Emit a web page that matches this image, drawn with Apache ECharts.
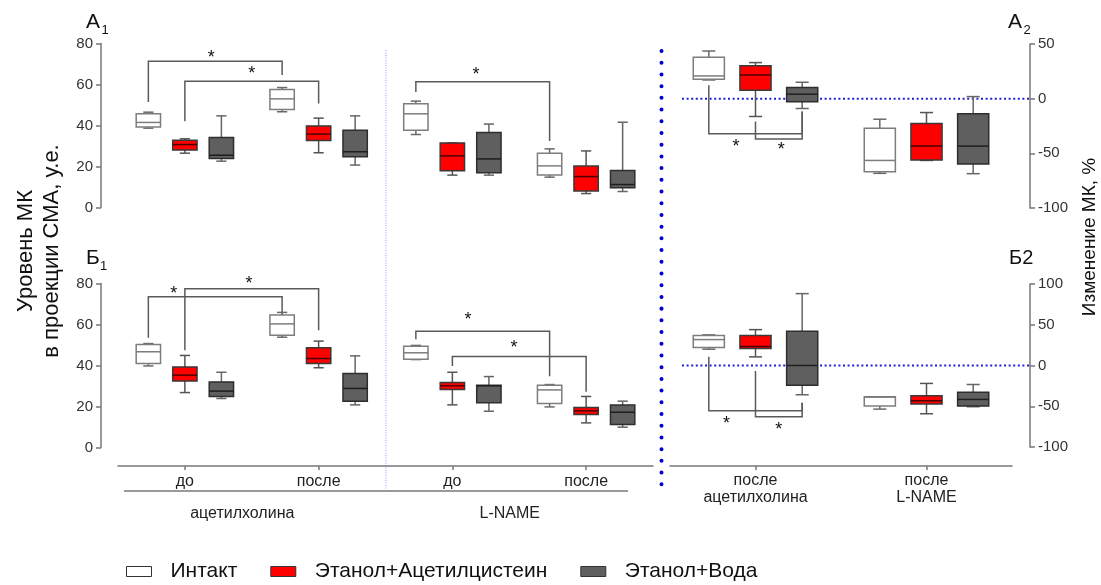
<!DOCTYPE html>
<html><head><meta charset="utf-8">
<script src="https://cdn.jsdelivr.net/npm/echarts@6/dist/echarts.min.js"></script>
<style>html,body{margin:0;padding:0;background:#fff}#c{width:1101px;height:585px}</style>
</head><body><div id="c"></div>
<script>
// ---------- DATA ----------
const categoriesLeft = ['до', 'после', 'до', 'после'];
const groupLabels = ['ацетилхолина', 'L-NAME'];
const categoriesRight = ['после\nацетилхолина', 'после\nL-NAME'];
const seriesNames = ['Интакт', 'Этанол+Ацетилцистеин', 'Этанол+Вода'];
const yTicksLeft = [0, 20, 40, 60, 80];
const yTicksA2 = [-100, -50, 0, 50];
const yTicksB2 = [-100, -50, 0, 50, 100];

// box values: [min, q1, median, q3, max] per category
const a1Intact = [[38.7, 39.3, 41.5, 45.7, 46.5], [46.7, 47.8, 53, 57.6, 58.5], [35.6, 37.7, 45.7, 50.6, 51.9], [14.8, 15.9, 20.3, 26.5, 28.6]];
const a1Nac    = [[26.5, 28, 30.7, 32.8, 33.5], [26.7, 32.7, 35.8, 39.8, 43.6], [15.8, 17.9, 25.2, 31.5, 31.5], [6.8, 8.1, 15.1, 20.2, 27.6]];
const a1Water  = [[22.6, 23.9, 25.5, 34.1, 44.7], [20.7, 24.7, 27.2, 37.7, 44.7], [15.8, 16.9, 23.7, 36.6, 40.7], [7.8, 9.6, 11.2, 18, 41.6]];

const b1Intact = [[39.8, 41, 46.7, 50.2, 50.7], [53.8, 54.8, 60.3, 64.6, 65.9], [42.9, 43, 46.2, 49.4, 49.8], [19.8, 21.5, 28.1, 30.4, 30.7]];
const b1Nac    = [[26.8, 32.4, 35.3, 39.3, 44.9], [38.9, 41, 43.4, 48.6, 51.9], [20.8, 28.3, 30.1, 31.7, 36.7], [12, 16.1, 17.9, 19.5, 24.9]];
const b1Water  = [[23.9, 24.9, 27.5, 32, 36.7], [20.8, 22.6, 28.8, 36.1, 44.7], [17.7, 21.8, 30.1, 30.4, 34.6], [9.9, 11.2, 17.2, 20.7, 22.6]];

const a2Intact = [[17.1, 17.8, 20.8, 37.8, 43.6], [-68.3, -66.8, -56.5, -27, -18.8]];
const a2Nac    = [[-16.3, 7.7, 21.7, 30.2, 33], [-56.5, -56.2, -43.4, -22.7, -12.7]];
const a2Water  = [[-9, -2.9, 4.1, 10.1, 15], [-68.6, -59.8, -43.4, -13.9, 1.9]];

const b2Intact = [[20, 22, 31.8, 36.7, 37.6], [-53.5, -49.8, -38.8, -38.4, -38.4]];
const b2Nac    = [[10.6, 20.8, 23.3, 36.7, 44], [-59.2, -47.3, -43.3, -37.1, -22]];
const b2Water  = [[-35.9, -24.1, 0, 42, 88.2], [-50.6, -49.8, -41.6, -32.7, -23.3]];

// significance brackets: [fromCat, fromSeries, fromY, toCat, toSeries, toY, barY, starFraction, starY]
const a1Brackets = [[0, 0, 51.5, 1, 0, 64.6, 71.4, 0.47, 74.6], [0, 1, 42.1, 1, 1, 50.7, 61.6, 0.5, 66.5], [2, 0, 56.4, 3, 0, 32.5, 61.3, 0.45, 65.9]];
const b1Brackets = [[0, 0, 53.5, 1, 0, 57.2, 73.5, 0.19, 76.4], [0, 1, 47.5, 1, 1, 57.2, 77.4, 0.48, 81.1], [2, 0, 52.8, 3, 0, 34.8, 56.7, 0.39, 63.4], [2, 1, 39.7, 3, 1, 27.2, 44.4, 0.46, 49.9]];
const a2Brackets = [[0, 0, 12.3, 0, 2, -11.8, -32.1, 0.29, -41.3], [0, 1, -20.9, 0, 2, -11.8, -37, 0.55, -44.6]];
const b2Brackets = [[0, 0, 10.6, 0, 2, -45.7, -55.5, 0.19, -68.2], [0, 1, -6.9, 0, 2, -45.7, -62.9, 0.5, -75.1]];

// ---------- STYLE / LAYOUT ----------
const FONT = 'Liberation Sans, Arial, sans-serif';
const boxStyles = [
  { fill: '#ffffff', stroke: '#7d7d7d', median: '#7d7d7d', whisker: '#6a6a6a' },
  { fill: '#ff0000', stroke: '#3a3a3a', median: '#4a0000', whisker: '#555555' },
  { fill: '#5f5f5f', stroke: '#2e2e2e', median: '#1e1e1e', whisker: '#666666' }
];
const OFFS = [-0.273, 0, 0.273], BOXW = 0.182, CAPW = 0.42;

function makeBoxRender(si) {
  const st = boxStyles[si];
  return function (params, api) {
    const cat = api.value(0);
    const band = api.size([1, 0])[0];
    const cx = api.coord([cat, 0])[0] + OFFS[si] * band;
    const w = BOXW * band, cw = w * CAPW;
    const y = k => api.coord([cat, api.value(k)])[1];
    const yMin = y(1), yQ1 = y(2), yMed = y(3), yQ3 = y(4), yMax = y(5);
    const ls = { stroke: st.whisker, lineWidth: 1.5 };
    return { type: 'group', children: [
      { type: 'line', shape: { x1: cx, y1: yMax, x2: cx, y2: yQ3 }, style: ls },
      { type: 'line', shape: { x1: cx, y1: yQ1, x2: cx, y2: yMin }, style: ls },
      { type: 'line', shape: { x1: cx - cw / 2, y1: yMax, x2: cx + cw / 2, y2: yMax }, style: ls },
      { type: 'line', shape: { x1: cx - cw / 2, y1: yMin, x2: cx + cw / 2, y2: yMin }, style: ls },
      { type: 'rect', shape: { x: cx - w / 2, y: yQ3, width: w, height: yQ1 - yQ3 }, style: { fill: st.fill, stroke: st.stroke, lineWidth: 1.5 } },
      { type: 'line', shape: { x1: cx - w / 2, y1: yMed, x2: cx + w / 2, y2: yMed }, style: { stroke: st.median, lineWidth: 1.5 } }
    ]};
  };
}
function makeBracketRender(brackets) {
  return function (params, api) {
    const b = brackets[params.dataIndex];
    const band = api.size([1, 0])[0];
    const px = (cat, si) => api.coord([cat, 0])[0] + OFFS[si] * band;
    const py = v => api.coord([0, v])[1];
    const x1 = px(b[0], b[1]), x2 = px(b[3], b[4]), yb = py(b[6]);
    return { type: 'group', children: [
      { type: 'polyline', shape: { points: [[x1, py(b[2])], [x1, yb], [x2, yb], [x2, py(b[5])]] }, style: { stroke: '#5a5a5a', lineWidth: 1.5, fill: null } },
      { type: 'text', x: x1 + (x2 - x1) * b[7], y: py(b[8]) + 3, style: { text: '*', fontSize: 18, fontFamily: FONT, fill: '#111', align: 'center', verticalAlign: 'middle' } }
    ]};
  };
}
function zeroLineRender(params, api) {
  const cs = params.coordSys;
  const y0 = api.coord([0, 0])[1];
  return { type: 'line', shape: { x1: cs.x + 12, y1: y0, x2: cs.x + cs.width + 18, y2: y0 }, style: { stroke: '#2020d8', lineWidth: 2, lineDash: [2, 2.6] } };
}

const panels = [
  { x: 0, y: 0, data: [a1Intact, a1Nac, a1Water], brackets: a1Brackets, zero: false },
  { x: 1, y: 1, data: [b1Intact, b1Nac, b1Water], brackets: b1Brackets, zero: false },
  { x: 3, y: 2, data: [a2Intact, a2Nac, a2Water], brackets: a2Brackets, zero: true },
  { x: 4, y: 3, data: [b2Intact, b2Nac, b2Water], brackets: b2Brackets, zero: true }
];

const series = [];
panels.forEach(p => {
  if (p.zero) series.push({ type: 'custom', xAxisIndex: p.x, yAxisIndex: p.y, renderItem: zeroLineRender, data: [[0, 0]], silent: true, z: 1 });
  p.data.forEach((vals, si) => {
    series.push({
      type: 'custom', name: seriesNames[si], xAxisIndex: p.x, yAxisIndex: p.y,
      renderItem: makeBoxRender(si), encode: { x: 0, y: [1, 2, 3, 4, 5] },
      itemStyle: { color: boxStyles[si].fill, borderColor: '#333', borderWidth: 1 },
      data: vals.map((v, i) => [i].concat(v)), silent: true, z: 3
    });
  });
  series.push({ type: 'custom', xAxisIndex: p.x, yAxisIndex: p.y, renderItem: makeBracketRender(p.brackets),
    data: p.brackets.map(b => [b[0], b[6]]), silent: true, z: 2 });
});

const axisLine = { show: true, onZero: false, lineStyle: { color: '#777', width: 1.5 } };
const yLabel = { fontSize: 15, color: '#333', fontFamily: FONT, margin: 8 };
function yAxisLeft(gi, ticks) {
  return { type: 'value', gridIndex: gi, min: ticks[0], max: ticks[ticks.length - 1], interval: ticks[1] - ticks[0], offset: 17,
    axisLine, axisTick: { show: true, length: 5, lineStyle: { color: '#777', width: 1.5 } }, axisLabel: yLabel, splitLine: { show: false } };
}
function yAxisRight(gi, ticks) {
  return { type: 'value', gridIndex: gi, position: 'right', min: ticks[0], max: ticks[ticks.length - 1], interval: ticks[1] - ticks[0], offset: 18,
    axisLine, axisTick: { show: true, length: 5, lineStyle: { color: '#777', width: 1.5 } }, axisLabel: yLabel, splitLine: { show: false } };
}

const xLabel = { fontSize: 16, color: '#222', fontFamily: FONT };
const option = {
  animation: false,
  backgroundColor: '#ffffff',
  grid: [
    { left: 118, top: 43.5, width: 535, height: 164 },
    { left: 118, top: 283.5, width: 535, height: 164 },
    { left: 670, top: 44, width: 342, height: 164 },
    { left: 670, top: 284, width: 342, height: 163 }
  ],
  xAxis: [
    { type: 'category', gridIndex: 0, data: categoriesLeft, show: false },
    { type: 'category', gridIndex: 1, data: categoriesLeft, position: 'bottom', offset: 18.5, axisLine,
      axisTick: { show: true, alignWithLabel: true, length: 4, lineStyle: { color: '#777', width: 1.5 } },
      axisLabel: Object.assign({ margin: 8 }, xLabel) },
    { type: 'category', gridIndex: 1, data: groupLabels, position: 'bottom', offset: 43.5, axisLine: { show: false, onZero: false }, axisTick: { show: false },
      axisLabel: Object.assign({ margin: 15, padding: [0, 19, 0, 0] }, xLabel) },
    { type: 'category', gridIndex: 2, data: categoriesRight, show: false },
    { type: 'category', gridIndex: 3, data: categoriesRight, position: 'bottom', offset: 19, axisLine,
      axisTick: { show: true, alignWithLabel: true, length: 4, lineStyle: { color: '#777', width: 1.5 } },
      axisLabel: Object.assign({ margin: 6, lineHeight: 17 }, xLabel) }
  ],
  yAxis: [yAxisLeft(0, yTicksLeft), yAxisLeft(1, yTicksLeft), yAxisRight(2, yTicksA2), yAxisRight(3, yTicksB2)],
  legend: {
    left: 126, top: 561, padding: 0, itemWidth: 25, itemHeight: 10, itemGap: 33, icon: 'rect',
    textStyle: { fontSize: 21, color: '#111', fontFamily: FONT, padding: [0, 0, 0, 14] },
    data: seriesNames.map((n, i) => ({ name: n, itemStyle: { color: boxStyles[i].fill, borderColor: '#333', borderWidth: 1 } }))
  },
  graphic: [
    // panel dividers
    { type: 'line', shape: { x1: 386, y1: 50, x2: 386, y2: 490 }, style: { stroke: '#9a9aff', lineWidth: 1, lineDash: [1, 1.5] }, silent: true },
    { type: 'line', shape: { x1: 661.5, y1: 51, x2: 661.5, y2: 488 }, style: { stroke: '#0000d0', lineWidth: 4, lineDash: [0.01, 11.7], lineCap: 'round' }, silent: true },
    // underline of grouping
    { type: 'line', shape: { x1: 124, y1: 491, x2: 628, y2: 491 }, style: { stroke: '#777', lineWidth: 1.5 }, silent: true },
    // panel titles
    { type: 'text', x: 86, y: 22, style: { text: 'А', fontSize: 21, fontFamily: FONT, fill: '#111', verticalAlign: 'middle' } },
    { type: 'text', x: 101.5, y: 30, style: { text: '1', fontSize: 13, fontFamily: FONT, fill: '#111', verticalAlign: 'middle' } },
    { type: 'text', x: 1008, y: 22, style: { text: 'А', fontSize: 21, fontFamily: FONT, fill: '#111', verticalAlign: 'middle' } },
    { type: 'text', x: 1023.5, y: 30, style: { text: '2', fontSize: 13, fontFamily: FONT, fill: '#111', verticalAlign: 'middle' } },
    { type: 'text', x: 86, y: 258, style: { text: 'Б', fontSize: 21, fontFamily: FONT, fill: '#111', verticalAlign: 'middle' } },
    { type: 'text', x: 100, y: 266, style: { text: '1', fontSize: 13, fontFamily: FONT, fill: '#111', verticalAlign: 'middle' } },
    { type: 'text', x: 1009, y: 258, style: { text: 'Б2', fontSize: 20, fontFamily: FONT, fill: '#111', verticalAlign: 'middle' } },
    // axis titles
    { type: 'text', x: 39, y: 251, rotation: Math.PI / 2, style: { text: 'Уровень МК\nв проекции СМА, у.е.', fontSize: 22, lineHeight: 26, fontFamily: FONT, fill: '#111', align: 'center', verticalAlign: 'middle' } },
    { type: 'text', x: 1090, y: 237, rotation: Math.PI / 2, style: { text: 'Изменение МК, %', fontSize: 19, fontFamily: FONT, fill: '#111', align: 'center', verticalAlign: 'middle' } }
  ],
  series
};
const chart = echarts.init(document.getElementById('c'), null, { renderer: 'canvas' });
chart.setOption(option);
</script></body></html>
